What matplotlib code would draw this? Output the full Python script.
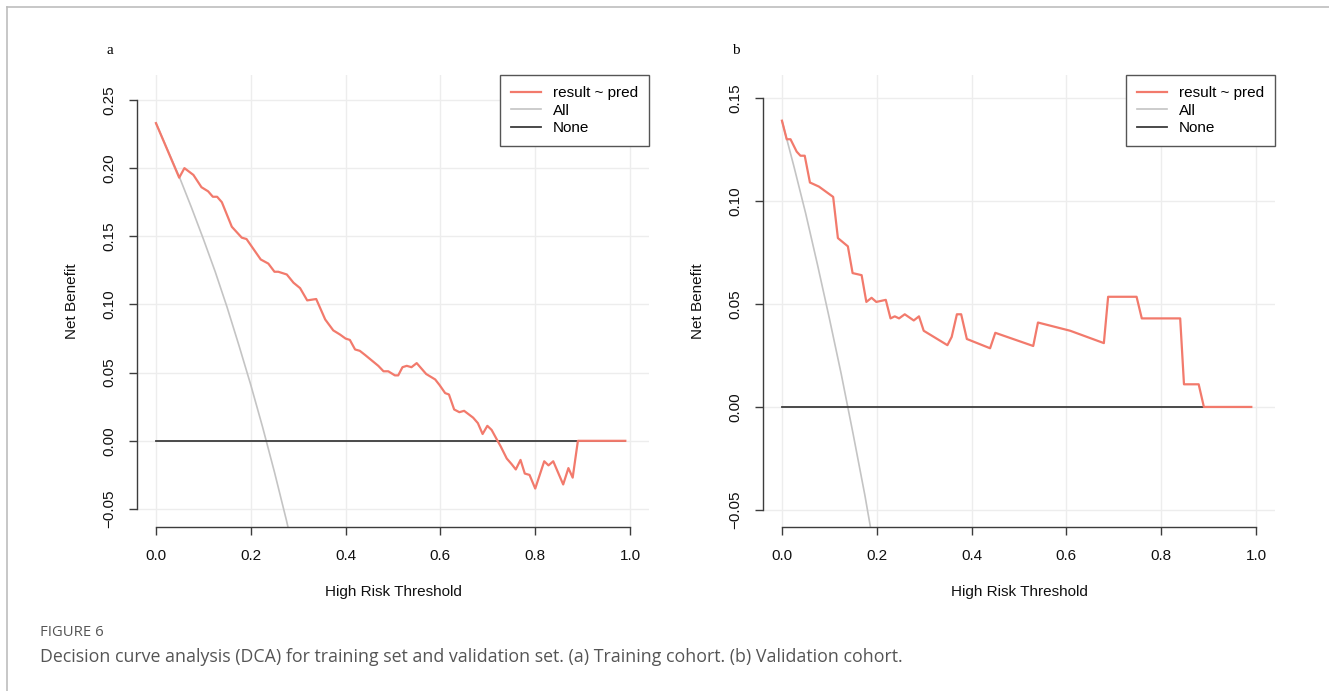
import matplotlib
matplotlib.use("Agg")
import matplotlib.pyplot as plt
from matplotlib.lines import Line2D

# values
train_thr = [0.000, 0.049, 0.060, 0.079, 0.096, 0.110, 0.120, 0.129, 0.139, 0.160,
             0.181, 0.191, 0.221, 0.237, 0.250, 0.258, 0.276, 0.290, 0.304, 0.319,
             0.338, 0.357, 0.374, 0.388, 0.400, 0.409, 0.420, 0.430, 0.441, 0.455,
             0.469, 0.480, 0.490, 0.504, 0.511, 0.520, 0.529, 0.539, 0.550, 0.570,
             0.589, 0.598, 0.610, 0.618, 0.629, 0.640, 0.650, 0.669, 0.679, 0.689,
             0.699, 0.708, 0.719, 0.727, 0.740, 0.750, 0.759, 0.769, 0.778, 0.788,
             0.800, 0.819, 0.828, 0.838, 0.859, 0.870, 0.879, 0.890, 0.990]
train_nb = [0.233, 0.193, 0.200, 0.195, 0.186, 0.183, 0.179, 0.179, 0.175, 0.157,
            0.149, 0.148, 0.133, 0.130, 0.124, 0.124, 0.122, 0.116, 0.112, 0.103,
            0.104, 0.089, 0.081, 0.078, 0.075, 0.074, 0.067, 0.066, 0.063, 0.059,
            0.055, 0.051, 0.051, 0.048, 0.048, 0.054, 0.055, 0.054, 0.057, 0.049,
            0.045, 0.041, 0.035, 0.034, 0.023, 0.021, 0.022, 0.017, 0.013, 0.005,
            0.011, 0.008, 0.001, -0.004, -0.013, -0.017, -0.021, -0.014, -0.024, -0.025,
            -0.035, -0.015, -0.018, -0.015, -0.032, -0.020, -0.027, 0.000, 0.000]
train_all_thr = [0.0, 0.025, 0.05, 0.075, 0.10, 0.125, 0.15, 0.175, 0.20, 0.225, 0.25, 0.275, 0.30]
train_all_nb = [0.233, 0.213, 0.193, 0.171, 0.148, 0.124, 0.098, 0.070, 0.041, 0.010, -0.023, -0.058, -0.096]

valid_thr = [0.000, 0.010, 0.018, 0.031, 0.039, 0.048, 0.059, 0.078, 0.108, 0.118,
             0.139, 0.149, 0.168, 0.178, 0.189, 0.199, 0.219, 0.229, 0.238, 0.247,
             0.259, 0.278, 0.289, 0.299, 0.349, 0.358, 0.369, 0.378, 0.390, 0.439,
             0.450, 0.530, 0.540, 0.608, 0.679, 0.688, 0.748, 0.759, 0.840, 0.848,
             0.879, 0.890, 0.990]
valid_nb = [0.139, 0.130, 0.130, 0.124, 0.122, 0.122, 0.109, 0.107, 0.102, 0.082,
            0.078, 0.065, 0.064, 0.051, 0.053, 0.051, 0.052, 0.043, 0.044, 0.043,
            0.045, 0.042, 0.044, 0.037, 0.030, 0.034, 0.045, 0.045, 0.033, 0.0285,
            0.036, 0.0296, 0.041, 0.037, 0.031, 0.0535, 0.0535, 0.043, 0.043, 0.011,
            0.011, 0.000, 0.000]
valid_all_thr = [0.0, 0.025, 0.05, 0.075, 0.10, 0.125, 0.15, 0.175, 0.20]
valid_all_nb = [0.139, 0.117, 0.094, 0.069, 0.043, 0.016, -0.013, -0.043, -0.076]

none_thr = [0.0, 0.99]
none_nb = [0.0, 0.0]

x_ticks = [0.0, 0.2, 0.4, 0.6, 0.8, 1.0]
train_yticks = [-0.05, 0.00, 0.05, 0.10, 0.15, 0.20, 0.25]
valid_yticks = [-0.05, 0.00, 0.05, 0.10, 0.15]

RED = "#F27A6C"
GREY = "#C4C4C4"
DARK = "#3C3C3C"
GRID = "#EDEDED"
FS = 11

plt.rcParams["font.family"] = ["Liberation Sans", "DejaVu Sans"]

W, H = 1329, 691
fig = plt.figure(figsize=(W / 100, H / 100), dpi=100)


def px_axes(left, top, right, bottom):
    return fig.add_axes([left / W, 1 - bottom / H, (right - left) / W, (bottom - top) / H])


def dca_panel(ax, thr, nb, all_thr, all_nb, yticks, ylim, tag):
    ax.set_xlim(-0.04, 1.04)
    ax.set_ylim(*ylim)
    for t in x_ticks:
        ax.axvline(t, color=GRID, lw=1, zorder=0)
    for t in yticks:
        ax.axhline(t, color=GRID, lw=1, zorder=0)

    ax.plot(all_thr, all_nb, color=GREY, lw=1.2, label="All", zorder=2)
    ax.plot(none_thr, none_nb, color=DARK, lw=1.3, label="None", zorder=2)
    ax.plot(thr, nb, color=RED, lw=1.6, label="result ~ pred", zorder=3)

    for side in ["top", "right"]:
        ax.spines[side].set_visible(False)
    for side in ["left", "bottom"]:
        ax.spines[side].set_color(DARK)
        ax.spines[side].set_linewidth(1.0)
    ax.spines["left"].set_bounds(yticks[0], yticks[-1])
    ax.spines["bottom"].set_bounds(x_ticks[0], x_ticks[-1])

    ax.set_xticks(x_ticks)
    ax.set_xticklabels([f"{t:.1f}" for t in x_ticks])
    ax.set_yticks(yticks)
    ax.set_yticklabels([f"{t:.2f}".replace("-", "\u2212") for t in yticks],
                       rotation=90, va="center")
    ax.tick_params(axis="both", length=6, width=1.0, color=DARK, labelsize=FS,
                   labelcolor="#111111")
    ax.tick_params(axis="x", pad=10)
    ax.tick_params(axis="y", pad=9)

    ax.set_xlabel("High Risk Threshold", fontsize=FS, color="#111111")
    ax.xaxis.set_label_coords(0.5, -0.144)
    ax.xaxis.label.set_va("center")
    ax.set_ylabel("Net Benefit", fontsize=FS, color="#111111")
    ax.yaxis.set_label_coords(-0.127, 0.5)
    ax.yaxis.label.set_va("center")

    handles, labels = ax.get_legend_handles_labels()
    order = [2, 0, 1]
    leg = ax.legend([handles[i] for i in order], [labels[i] for i in order],
                    loc="upper right", borderaxespad=0, fancybox=False,
                    framealpha=1, edgecolor="#555555", fontsize=FS,
                    handlelength=2.0, handletextpad=0.75, labelspacing=0.23,
                    borderpad=0.72)
    leg.get_frame().set_linewidth(1.0)

    ax.text(-0.053, 1.055, tag, transform=ax.transAxes, fontsize=11,
            family="Liberation Serif", ha="center", va="center")


ax_a = px_axes(137, 75, 649, 527)
dca_panel(ax_a, train_thr, train_nb, train_all_thr, train_all_nb,
          train_yticks, (-0.0632, 0.2683), "a")

ax_b = px_axes(763, 75, 1275, 527)
dca_panel(ax_b, valid_thr, valid_nb, valid_all_thr, valid_all_nb,
          valid_yticks, (-0.0583, 0.1612), "b")

# figure frame (top and left edges of the page box)
fig.add_artist(Line2D([7 / W, 1], [1 - 7 / H, 1 - 7 / H], color="#BDBDBD", lw=1.2))
fig.add_artist(Line2D([7 / W, 7 / W], [0, 1 - 7 / H], color="#BDBDBD", lw=1.2))

fig.text(40 / W, 1 - 633 / H, "FIGURE 6", family="Open Sans", fontsize=10.7,
         color="#555555", va="center", ha="left")
fig.text(40 / W, 1 - 657 / H,
         "Decision curve analysis (DCA) for training set and validation set. "
         "(a) Training cohort. (b) Validation cohort.",
         family="Open Sans", fontsize=12.8, color="#555555", va="center", ha="left")

fig.savefig("out.png", dpi=100)
